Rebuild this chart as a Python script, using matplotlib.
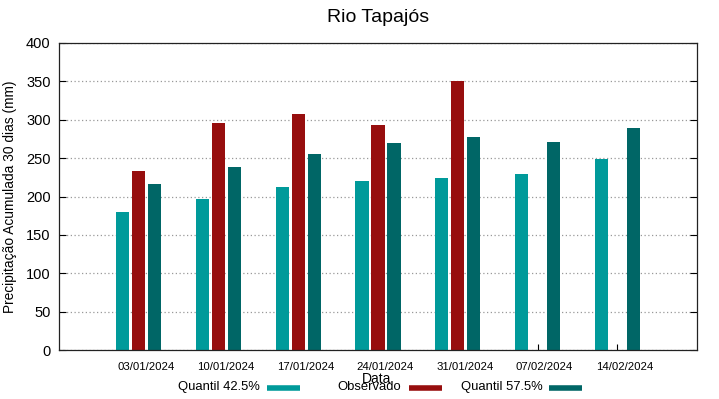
import matplotlib
matplotlib.use('Agg')
import matplotlib.pyplot as plt
import matplotlib.transforms as mtransforms
from matplotlib.lines import Line2D
import numpy as np

plt.rcParams['font.family'] = ['Liberation Sans', 'DejaVu Sans']

# ── Data ───────────────────────────────────────────────────────────────────
datas = ['03/01/2024', '10/01/2024', '17/01/2024', '24/01/2024',
         '31/01/2024', '07/02/2024', '14/02/2024']
q425 = [180, 197, 212, 220, 224, 229, 249]
observado = [233, 296, 307, 293, 351, np.nan, np.nan]
q575 = [216, 238, 255, 270, 278, 271, 289]

series_names = ['Quantil 42.5%', 'Observado', 'Quantil 57.5%']
series_vals = [q425, observado, q575]
series_colors = ['#009a9a', '#970e0e', '#006666']

# ── Figure ─────────────────────────────────────────────────────────────────
W, H = 719, 399
fig = plt.figure(figsize=(W / 100, H / 100), dpi=100)
ax = fig.add_axes([59 / W, 1 - 350 / H, (697 - 59) / W, (350 - 43) / H])

x = np.arange(1, len(datas) + 1)
width = 0.165
offsets = [-0.2, 0.0, 0.2]
for vals, off, col in zip(series_vals, offsets, series_colors):
    ax.bar(x + off, vals, width, color=col, edgecolor='none', zorder=2)

ax.set_xlim(0, 8)
ax.set_ylim(0, 400)
ax.set_yticks(np.arange(0, 401, 50))
ax.set_xticks(x)
ax.set_xticklabels(datas, fontsize=8.2)
ax.tick_params(axis='y', direction='in', length=5, labelsize=10.5, pad=6,
               right=True, width=0.8)
ax.tick_params(axis='x', direction='in', length=4, pad=9, width=0.8)

# gnuplot-like shift of date labels
shift = mtransforms.ScaledTranslation(0.07, 0, fig.dpi_scale_trans)
for lbl in ax.get_xticklabels():
    lbl.set_transform(lbl.get_transform() + shift)

ax.grid(axis='y', linestyle=(0, (1, 2)), color='#999999', linewidth=0.9)
ax.set_axisbelow(True)
for sp in ax.spines.values():
    sp.set_linewidth(0.9)
    sp.set_color('#222222')

ax.set_ylabel('Precipitação Acumulada 30 dias (mm)', fontsize=9.9)
ax.yaxis.set_label_coords((17 - 59) / (697 - 59), 0.5)
fig.text(377 / W, 1 - 379 / H, 'Data', ha='center', va='center', fontsize=10)
fig.text(378 / W, 1 - 17 / H, 'Rio Tapajós', ha='center', va='center', fontsize=14)

# legend, gnuplot style: text then sample
text_right = [260, 401, 543]
sample_x = [(267, 300), (409, 442), (549, 582)]
for name, col, tr, (sx0, sx1) in zip(series_names, series_colors, text_right, sample_x):
    fig.text(tr / W, 1 - 387 / H, name, ha='right', va='center', fontsize=9.4)
    fig.add_artist(Line2D([sx0 / W, sx1 / W], [1 - 388 / H, 1 - 388 / H],
                          color=col, linewidth=4, solid_capstyle='butt',
                          transform=fig.transFigure))

fig.savefig('out.png', dpi=100)
